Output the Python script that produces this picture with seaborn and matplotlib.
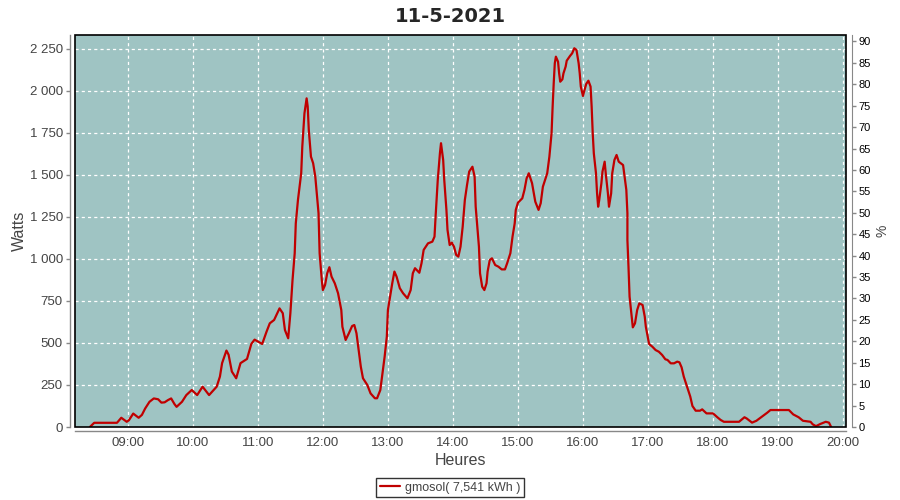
import matplotlib
matplotlib.use("Agg")
import matplotlib.pyplot as plt
import matplotlib.ticker as mticker
from matplotlib.patches import Rectangle
import seaborn as sns
import pandas as pd

title = "11-5-2021"
series_name = "gmosol( 7,541 kWh )"
x_label = "Heures"
y_label = "Watts"
y2_label = "%"
peak_ref_watts = 2550  # 100 % on the right axis

times = [
    "08:25", "08:29", "08:50", "08:54", "08:59", "09:01", "09:05", "09:10", "09:13", "09:16",
    "09:20", "09:24", "09:28", "09:31", "09:34", "09:37", "09:40", "09:43", "09:45", "09:50",
    "09:54", "09:59", "10:04", "10:09", "10:15", "10:22", "10:25", "10:27", "10:31", "10:33",
    "10:36", "10:40", "10:44", "10:50", "10:54", "10:57", "11:04", "11:08", "11:11", "11:15",
    "11:20", "11:23", "11:25", "11:28", "11:30", "11:32", "11:34", "11:35", "11:37", "11:40",
    "11:41", "11:43", "11:45", "11:46", "11:47", "11:49", "11:51", "11:53", "11:56", "11:57",
    "11:59", "12:00", "12:02", "12:04", "12:06", "12:08", "12:11", "12:14", "12:17", "12:18",
    "12:21", "12:24", "12:27", "12:29", "12:31", "12:33", "12:35", "12:37", "12:41", "12:44",
    "12:48", "12:50", "12:53", "12:55", "12:57", "12:59", "13:00", "13:02", "13:04", "13:06",
    "13:08", "13:11", "13:14", "13:18", "13:21", "13:23", "13:25", "13:29", "13:31", "13:33",
    "13:37", "13:41", "13:43", "13:44", "13:46", "13:48", "13:49", "13:51", "13:52", "13:54",
    "13:55", "13:57", "13:59", "14:01", "14:03", "14:05", "14:07", "14:09", "14:11", "14:13",
    "14:15", "14:18", "14:20", "14:21", "14:24", "14:25", "14:27", "14:29", "14:31", "14:32",
    "14:34", "14:36", "14:39", "14:42", "14:45", "14:48", "14:50", "14:53", "14:55", "14:57",
    "14:58", "15:00", "15:04", "15:06", "15:08", "15:10", "15:13", "15:16", "15:19", "15:21",
    "15:23", "15:25", "15:27", "15:29", "15:31", "15:32", "15:33", "15:34", "15:35", "15:37",
    "15:38", "15:39", "15:41", "15:42", "15:44", "15:45", "15:48", "15:50", "15:52", "15:54",
    "15:56", "15:57", "15:58", "16:00", "16:01", "16:03", "16:05", "16:07", "16:08", "16:09",
    "16:10", "16:12", "16:13", "16:14", "16:15", "16:17", "16:18", "16:20", "16:21", "16:23",
    "16:24", "16:26", "16:27", "16:29", "16:31", "16:33", "16:37", "16:38", "16:40", "16:41",
    "16:41", "16:42", "16:43", "16:45", "16:46", "16:48", "16:50", "16:52", "16:55", "16:57",
    "16:58", "17:00", "17:01", "17:04", "17:07", "17:10", "17:13", "17:16", "17:18", "17:21",
    "17:24", "17:27", "17:29", "17:31", "17:33", "17:36", "17:39", "17:41", "17:44", "17:48",
    "17:50", "17:54", "18:00", "18:04", "18:07", "18:10", "18:24", "18:29", "18:31", "18:36",
    "18:40", "18:45", "18:50", "18:53", "19:10", "19:14", "19:19", "19:23", "19:30", "19:32",
    "19:35", "19:39", "19:44", "19:47", "19:49",
]
watts = [
    0, 25, 25, 55, 31, 40, 80, 55, 72, 110,
    150, 170, 165, 145, 147, 160, 170, 137, 120, 150,
    190, 220, 190, 240, 190, 240, 300, 380, 455, 430,
    330, 290, 380, 405, 495, 520, 494, 567, 617, 637,
    706, 677, 577, 528, 677, 875, 1034, 1212, 1351, 1510,
    1668, 1867, 1956, 1907, 1768, 1609, 1570, 1490, 1272, 1034,
    875, 815, 845, 915, 951, 895, 855, 796, 696, 597,
    518, 558, 601, 607, 558, 458, 359, 290, 250, 200,
    171, 171, 220, 320, 419, 538, 696, 776, 855, 925,
    895, 826, 796, 766, 815, 915, 945, 918, 974, 1054,
    1093, 1103, 1133, 1252, 1470, 1629, 1689, 1589, 1470, 1292,
    1173, 1083, 1097, 1073, 1024, 1014, 1073, 1192, 1351, 1440,
    1520, 1549, 1490, 1311, 1073, 915, 835, 815, 855, 925,
    994, 1004, 964, 954, 938, 938, 974, 1034, 1133, 1212,
    1292, 1335, 1361, 1411, 1480, 1510, 1451, 1341, 1292, 1332,
    1430, 1470, 1510, 1609, 1748, 1907, 2046, 2165, 2204, 2174,
    2105, 2055, 2069, 2105, 2145, 2180, 2208, 2224, 2254, 2244,
    2165, 2105, 2026, 1970, 1996, 2042, 2061, 2026, 1907, 1748,
    1629, 1510, 1391, 1311, 1351, 1451, 1520, 1579, 1510, 1391,
    1311, 1391, 1510, 1589, 1619, 1579, 1559, 1510, 1411, 1272,
    1113, 954, 776, 657, 593, 617, 696, 736, 726, 657,
    597, 528, 494, 478, 458, 448, 429, 403, 399, 379,
    379, 389, 385, 355, 300, 240, 181, 125, 97, 97,
    105, 81, 81, 58, 42, 31, 31, 58, 51, 26,
    37, 61, 85, 101, 101, 75, 58, 37, 31, 16,
    5, 18, 31, 26, 0,
]
x_ticks = ["09:00", "10:00", "11:00", "12:00", "13:00", "14:00", "15:00",
           "16:00", "17:00", "18:00", "19:00", "20:00"]
y_ticks = [0, 250, 500, 750, 1000, 1250, 1500, 1750, 2000, 2250]
y2_ticks = list(range(0, 95, 5))


def to_hours(s):
    h, m = s.split(":")
    return int(h) + int(m) / 60.0


df = pd.DataFrame({"hour": [to_hours(t) for t in times], "watts": watts})

sns.set_style("white")
plt.rcParams["font.family"] = ["Liberation Sans", "DejaVu Sans"]

fig = plt.figure(figsize=(9, 5), dpi=100)
ax = fig.add_axes([0.0837, 0.146, 0.8563, 0.784])

bg = "#9FC4C3"
line_c = "#C00000"
axis_c = "#888888"
lab_c = "#444444"

ax.set_facecolor(bg)
sns.lineplot(data=df, x="hour", y="watts", ax=ax, color=line_c, linewidth=1.6,
             label=series_name, legend=False, estimator=None, sort=False)

ax.set_xlim(8.193, 20.045)
ax.set_ylim(0, 2333)
ax.set_xticks([to_hours(t) for t in x_ticks])
ax.set_xticklabels(x_ticks)
ax.set_yticks(y_ticks)
ax.yaxis.set_major_formatter(mticker.FuncFormatter(lambda v, p: f"{v:,.0f}".replace(",", " ")))

ax.grid(True, color="white", linestyle=(0, (2.5, 2.5)), linewidth=0.9)
ax.set_axisbelow(True)

for s in ["top", "right"]:
    ax.spines[s].set_visible(False)
ax.spines["left"].set_position(("outward", 4))
ax.spines["bottom"].set_position(("outward", 3))
for s in ["left", "bottom"]:
    ax.spines[s].set_color(axis_c)
    ax.spines[s].set_linewidth(1.0)

ax.tick_params(axis="y", direction="out", length=3, width=1, color=axis_c,
               labelcolor=lab_c, labelsize=9.5, pad=2)
ax.tick_params(axis="x", direction="in", length=3, width=1, color=axis_c,
               labelcolor=lab_c, labelsize=9.5, pad=4)

ax.add_patch(Rectangle((0, 0), 1, 1, transform=ax.transAxes, fill=False,
                       edgecolor="black", linewidth=1.2, clip_on=False, zorder=5))

ax.set_xlabel(x_label, fontsize=11.5, color=lab_c, labelpad=3)
ax.set_ylabel(y_label, fontsize=11.5, color=lab_c, labelpad=2)

ax2 = ax.twinx()
ax2.set_ylim(0, 2333 / peak_ref_watts * 100)
ax2.set_yticks(y2_ticks)
for s in ["top", "left", "bottom"]:
    ax2.spines[s].set_visible(False)
ax2.spines["right"].set_position(("outward", 4))
ax2.spines["right"].set_color(axis_c)
ax2.tick_params(axis="y", direction="out", length=3, width=1, color=axis_c,
                labelcolor="black", labelsize=8, pad=2)
ax2.set_ylabel(y2_label, fontsize=10, color=lab_c, rotation=90, labelpad=3)

fig.suptitle(title, fontsize=14, fontweight="bold", y=0.985,
             family=["DejaVu Sans"])

handles, labels = ax.get_legend_handles_labels()
leg = fig.legend(handles, labels, loc="center", bbox_to_anchor=(0.5, 0.025),
                 frameon=True, fancybox=False, fontsize=9, handlelength=1.6,
                 borderpad=0.3, handletextpad=0.4, labelcolor=lab_c)
leg.get_frame().set_edgecolor("black")
leg.get_frame().set_linewidth(1.0)

fig.savefig("out.png", dpi=100)
